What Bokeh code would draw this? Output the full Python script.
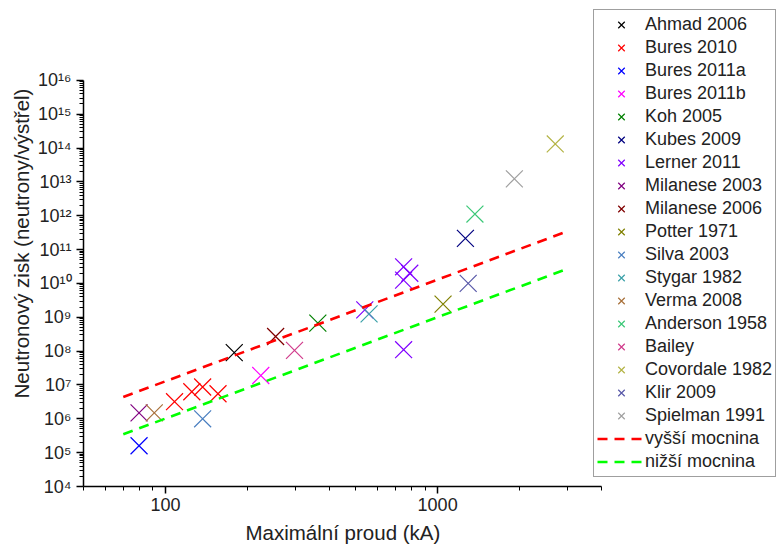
import math
from bokeh.plotting import figure
from bokeh.models import (FixedTicker, CustomJSTickFormatter, NumeralTickFormatter,
                          Legend, LegendItem, Range1d, Title)
from bokeh.embed import file_html
from bokeh.resources import INLINE

FONT = "Liberation Sans"

# ---- data (peak current in kA, neutron yield per shot) ----
ahmad_I = [179]
ahmad_Y = [9.0e7]
bures2010_I = [108, 125, 137, 156]
bures2010_Y = [3.2e6, 6.3e6, 8.7e6, 5.5e6]
bures2011a_I = [80]
bures2011a_Y = [1.6e5]
bures2011b_I = [224]
bures2011b_Y = [1.9e7]
koh_I = [363]
koh_Y = [6.7e8]
kubes_I = [1265]
kubes_Y = [2.15e11]
lerner_I = [540, 750, 790, 750, 750]
lerner_Y = [1.66e9, 3.1e10, 2.0e10, 1.25e10, 1.1e8]
milanese2003_I = [80]
milanese2003_Y = [1.5e6]
milanese2006_I = [254]
milanese2006_Y = [2.7e8]
potter_I = [1047]
potter_Y = [2.45e9]
silva_I = [137]
silva_Y = [1.0e6]
stygar_I = [560]
stygar_Y = [1.26e9]
verma_I = [91]
verma_Y = [1.5e6]
anderson_I = [1371]
anderson_Y = [1.12e12]
bailey_I = [298]
bailey_Y = [1.05e8]
covordale_I = [2705]
covordale_Y = [1.32e14]
klir_I = [1295]
klir_Y = [1.0e10]
spielman_I = [1914]
spielman_Y = [1.23e13]

high_I = [70, 3000]
high_Y = [4.4e6, 3.5e11]
low_I = [70, 3000]
low_Y = [3.5e5, 2.7e10]

names = ["Ahmad 2006", "Bures 2010", "Bures 2011a", "Bures 2011b", "Koh 2005",
         "Kubes 2009", "Lerner 2011", "Milanese 2003", "Milanese 2006",
         "Potter 1971", "Silva 2003", "Stygar 1982", "Verma 2008",
         "Anderson 1958", "Bailey", "Covordale 1982", "Klir 2009", "Spielman 1991"]
colors = ["#000000", "#FF0000", "#0000FF", "#FF00FF", "#008000",
          "#000080", "#8000FF", "#800080", "#800000",
          "#808000", "#4A7FC0", "#3AA0A8", "#A8703A",
          "#3CC878", "#D03C8C", "#B4B446", "#5858A8", "#A0A0A0"]
xs = [ahmad_I, bures2010_I, bures2011a_I, bures2011b_I, koh_I, kubes_I, lerner_I,
      milanese2003_I, milanese2006_I, potter_I, silva_I, stygar_I, verma_I,
      anderson_I, bailey_I, covordale_I, klir_I, spielman_I]
ys = [ahmad_Y, bures2010_Y, bures2011a_Y, bures2011b_Y, koh_Y, kubes_Y, lerner_Y,
      milanese2003_Y, milanese2006_Y, potter_Y, silva_Y, stygar_Y, verma_Y,
      anderson_Y, bailey_Y, covordale_Y, klir_Y, spielman_Y]
line_names = ["vyšší mocnina", "nižší mocnina"]
line_colors = ["#FF0000", "#00FF00"]

X_AXIS = (50, 4000)
Y_AXIS = (1e4, 1e16)

x_major = [100, 1000]
x_minor = [m * d for d in (10, 100, 1000) for m in range(2, 10) if 50 <= m * d <= 4000]
y_major = [10.0 ** e for e in range(4, 17)]
y_minor = [m * 10.0 ** e for e in range(4, 16) for m in range(2, 10)]

# ---- layout geometry (pixels) ----
W, H = 777, 552
AX_LEFT, AX_RIGHT, AX_TOP, AX_BOTTOM = 83, 601, 80, 487   # where the axes sit
# frame spans from AX_LEFT to the right edge and from the top edge to AX_BOTTOM,
# so the legend (which sits partly outside the axes box) is not clipped
px_per_dec_x = (AX_RIGHT - AX_LEFT) / (math.log10(X_AXIS[1]) - math.log10(X_AXIS[0]))
px_per_dec_y = (AX_BOTTOM - AX_TOP) / (math.log10(Y_AXIS[1]) - math.log10(Y_AXIS[0]))
x_end = 10 ** (math.log10(X_AXIS[1]) + (W - AX_RIGHT) / px_per_dec_x)
y_end = 10 ** (math.log10(Y_AXIS[1]) + AX_TOP / px_per_dec_y)

p = figure(width=W, height=H, x_axis_type="log", y_axis_type="log",
           x_range=Range1d(X_AXIS[0], x_end), y_range=Range1d(Y_AXIS[0], y_end),
           output_backend="svg", toolbar_location=None,
           min_border_left=AX_LEFT, min_border_right=0, min_border_top=0,
           min_border_bottom=H - AX_BOTTOM)
p.outline_line_color = None
p.grid.visible = False
p.background_fill_color = "white"
p.border_fill_color = "white"

items = []
for nm, c, xv, yv in zip(names, colors, xs, ys):
    r = p.scatter(xv, yv, marker="x", size=24, line_color=c, line_width=1.2)
    items.append(LegendItem(label=nm, renderers=[r]))
for nm, c, xv, yv in zip(line_names, line_colors, [high_I, low_I], [high_Y, low_Y]):
    r = p.line(xv, yv, line_color=c, line_width=2.6, line_dash="10 7")
    items.append(LegendItem(label=nm, renderers=[r]))

p.xaxis.ticker = FixedTicker(ticks=x_major, minor_ticks=x_minor)
p.yaxis.ticker = FixedTicker(ticks=y_major, minor_ticks=y_minor)
p.xaxis.bounds = X_AXIS
p.yaxis.bounds = Y_AXIS
p.xaxis.formatter = NumeralTickFormatter(format="0")
p.yaxis.formatter = CustomJSTickFormatter(code="""
const sup = {'0':'\u2070','1':'\u00b9','2':'\u00b2','3':'\u00b3','4':'\u2074',
             '5':'\u2075','6':'\u2076','7':'\u2077','8':'\u2078','9':'\u2079','-':'\u207b'};
const e = Math.round(Math.log10(tick));
return '10' + String(e).split('').map(c => sup[c]).join('');
""")

for ax in (p.xaxis[0], p.yaxis[0]):
    ax.axis_line_width = 1.5
    ax.axis_line_color = "black"
    ax.major_tick_line_width = 1.5
    ax.minor_tick_line_width = 1
    ax.major_tick_line_color = "black"
    ax.minor_tick_line_color = "black"
    ax.major_tick_out = 7
    ax.major_tick_in = 0
    ax.minor_tick_out = 4
    ax.minor_tick_in = 0
    ax.major_label_text_font = FONT
    ax.major_label_text_font_size = "18px"
    ax.major_label_text_color = "#222222"
    ax.axis_label_text_font = FONT
    ax.axis_label_text_font_size = "20.5px"
    ax.axis_label_text_font_style = "normal"
    ax.axis_label_text_color = "#222222"

p.yaxis.axis_label = "Neutronový zisk (neutrony/výstřel)"
p.xaxis.major_label_standoff = 4
p.yaxis.major_label_standoff = 5
p.yaxis.axis_label_standoff = 2

# x-axis title, centred under the axis (which is shorter than the frame)
x_title = Title(text="Maximální proud (kA)", align="left", offset=162,
                vertical_align="top", standoff=14,
                text_font=FONT, text_font_size="20.5px", text_font_style="normal",
                text_color="#222222")
p.add_layout(x_title, "below")

legend = Legend(items=items, location=(510, 9), orientation="vertical",
                label_text_font=FONT, label_text_font_size="18px",
                label_text_color="#222222",
                glyph_width=48, glyph_height=23, label_height=23, spacing=0,
                padding=3, margin=0, label_standoff=-1,
                border_line_color="#404040", border_line_width=1,
                background_fill_color="white", background_fill_alpha=1.0)
p.add_layout(legend, "center")

open("out.html", "w").write(file_html(p, INLINE))
